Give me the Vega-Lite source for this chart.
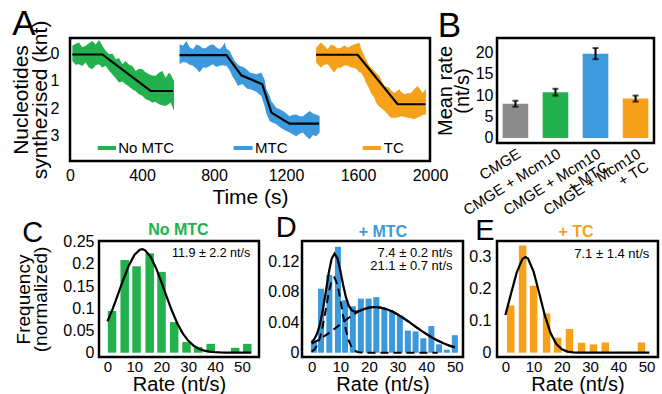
{
  "$schema": "https://vega.github.io/schema/vega-lite/v6.json",
  "background": "white",
  "padding": {"left": 8, "top": 5, "right": 0, "bottom": 0},
  "config": {
    "font": "Liberation Sans",
    "view": {"stroke": "black", "strokeWidth": 2.5},
    "axis": {"domain": false, "ticks": false, "grid": false, "labelColor": "black", "titleColor": "black", "titleFontWeight": "normal", "labelFontSize": 16, "titleFontSize": 21, "labelFlush": false, "labelOverlap": false, "labelBound": false, "titleFont": "Liberation Sans", "labelFont": "Liberation Sans"}
  },
  "resolve": {"scale": {"color": "independent"}},
  "datasets": {
    "traces": [
      {"s": "No MTC", "t": 13, "a": -0.30, "b": 0.26}, {"s": "No MTC", "t": 31, "a": -0.38, "b": 0.40}, {"s": "No MTC", "t": 50, "a": -0.42, "b": 0.38}, {"s": "No MTC", "t": 68, "a": -0.25, "b": 0.45}, {"s": "No MTC", "t": 87, "a": -0.30, "b": 0.32}, {"s": "No MTC", "t": 105, "a": -0.40, "b": 0.50}, {"s": "No MTC", "t": 124, "a": -0.48, "b": 0.57}, {"s": "No MTC", "t": 143, "a": -0.35, "b": 0.42}, {"s": "No MTC", "t": 161, "a": -0.52, "b": 0.38}, {"s": "No MTC", "t": 180, "a": -0.30, "b": 0.50}, {"s": "No MTC", "t": 198, "a": -0.12, "b": 0.44}, {"s": "No MTC", "t": 217, "a": 0.01, "b": 0.62}, {"s": "No MTC", "t": 235, "a": -0.02, "b": 0.75}, {"s": "No MTC", "t": 254, "a": 0.20, "b": 0.90}, {"s": "No MTC", "t": 272, "a": 0.15, "b": 1.06}, {"s": "No MTC", "t": 291, "a": 0.38, "b": 1.02}, {"s": "No MTC", "t": 309, "a": 0.26, "b": 1.12}, {"s": "No MTC", "t": 328, "a": 0.40, "b": 1.20}, {"s": "No MTC", "t": 346, "a": 0.45, "b": 1.31}, {"s": "No MTC", "t": 365, "a": 0.63, "b": 1.38}, {"s": "No MTC", "t": 383, "a": 0.55, "b": 1.49}, {"s": "No MTC", "t": 402, "a": 0.57, "b": 1.55}, {"s": "No MTC", "t": 420, "a": 0.68, "b": 1.68}, {"s": "No MTC", "t": 439, "a": 0.75, "b": 1.72}, {"s": "No MTC", "t": 457, "a": 0.80, "b": 1.80}, {"s": "No MTC", "t": 476, "a": 0.81, "b": 1.78}, {"s": "No MTC", "t": 494, "a": 0.70, "b": 1.86}, {"s": "No MTC", "t": 513, "a": 0.63, "b": 1.90}, {"s": "No MTC", "t": 531, "a": 0.88, "b": 1.93}, {"s": "No MTC", "t": 550, "a": 0.70, "b": 1.85}, {"s": "No MTC", "t": 559, "a": 0.75, "b": 1.80}, {"s": "No MTC", "t": 578, "a": 1.00, "b": 2.10},
      {"s": "MTC", "t": 609, "a": -0.36, "b": 0.38}, {"s": "MTC", "t": 628, "a": -0.30, "b": 0.30}, {"s": "MTC", "t": 646, "a": -0.48, "b": 0.32}, {"s": "MTC", "t": 665, "a": -0.25, "b": 0.40}, {"s": "MTC", "t": 683, "a": -0.17, "b": 0.44}, {"s": "MTC", "t": 702, "a": -0.35, "b": 0.55}, {"s": "MTC", "t": 720, "a": -0.30, "b": 0.69}, {"s": "MTC", "t": 739, "a": -0.20, "b": 0.50}, {"s": "MTC", "t": 757, "a": -0.23, "b": 0.51}, {"s": "MTC", "t": 776, "a": -0.32, "b": 0.45}, {"s": "MTC", "t": 794, "a": -0.36, "b": 0.38}, {"s": "MTC", "t": 813, "a": -0.25, "b": 0.48}, {"s": "MTC", "t": 831, "a": -0.17, "b": 0.44}, {"s": "MTC", "t": 850, "a": -0.30, "b": 0.42}, {"s": "MTC", "t": 859, "a": -0.42, "b": 0.44}, {"s": "MTC", "t": 869, "a": -0.20, "b": 0.44}, {"s": "MTC", "t": 887, "a": -0.11, "b": 0.60}, {"s": "MTC", "t": 906, "a": 0.15, "b": 0.88}, {"s": "MTC", "t": 915, "a": 0.26, "b": 0.95}, {"s": "MTC", "t": 933, "a": 0.40, "b": 1.19}, {"s": "MTC", "t": 942, "a": 0.44, "b": 1.15}, {"s": "MTC", "t": 961, "a": 0.48, "b": 1.12}, {"s": "MTC", "t": 970, "a": 0.51, "b": 1.20}, {"s": "MTC", "t": 989, "a": 0.62, "b": 1.31}, {"s": "MTC", "t": 998, "a": 0.69, "b": 1.30}, {"s": "MTC", "t": 1026, "a": 0.73, "b": 1.37}, {"s": "MTC", "t": 1035, "a": 0.75, "b": 1.40}, {"s": "MTC", "t": 1063, "a": 0.69, "b": 1.56}, {"s": "MTC", "t": 1081, "a": 0.95, "b": 1.93}, {"s": "MTC", "t": 1091, "a": 1.31, "b": 2.20}, {"s": "MTC", "t": 1109, "a": 1.55, "b": 2.48}, {"s": "MTC", "t": 1118, "a": 1.74, "b": 2.52}, {"s": "MTC", "t": 1146, "a": 1.99, "b": 2.60}, {"s": "MTC", "t": 1165, "a": 2.05, "b": 2.70}, {"s": "MTC", "t": 1183, "a": 2.11, "b": 2.79}, {"s": "MTC", "t": 1202, "a": 2.20, "b": 2.85}, {"s": "MTC", "t": 1220, "a": 2.30, "b": 2.91}, {"s": "MTC", "t": 1239, "a": 2.25, "b": 2.98}, {"s": "MTC", "t": 1257, "a": 2.24, "b": 3.04}, {"s": "MTC", "t": 1276, "a": 2.30, "b": 2.95}, {"s": "MTC", "t": 1294, "a": 2.30, "b": 2.91}, {"s": "MTC", "t": 1313, "a": 2.20, "b": 3.05}, {"s": "MTC", "t": 1331, "a": 2.11, "b": 3.16}, {"s": "MTC", "t": 1350, "a": 2.20, "b": 3.00}, {"s": "MTC", "t": 1368, "a": 2.24, "b": 3.04}, {"s": "MTC", "t": 1387, "a": 2.30, "b": 2.91},
      {"s": "TC", "t": 1367, "a": -0.23, "b": 0.32}, {"s": "TC", "t": 1394, "a": -0.42, "b": 0.51}, {"s": "TC", "t": 1413, "a": -0.30, "b": 0.40}, {"s": "TC", "t": 1432, "a": -0.17, "b": 0.38}, {"s": "TC", "t": 1450, "a": -0.35, "b": 0.55}, {"s": "TC", "t": 1468, "a": -0.30, "b": 0.69}, {"s": "TC", "t": 1487, "a": -0.20, "b": 0.50}, {"s": "TC", "t": 1506, "a": -0.23, "b": 0.51}, {"s": "TC", "t": 1524, "a": -0.32, "b": 0.42}, {"s": "TC", "t": 1543, "a": -0.23, "b": 0.44}, {"s": "TC", "t": 1562, "a": -0.30, "b": 0.50}, {"s": "TC", "t": 1580, "a": -0.36, "b": 0.51}, {"s": "TC", "t": 1598, "a": -0.40, "b": 0.60}, {"s": "TC", "t": 1607, "a": -0.42, "b": 0.69}, {"s": "TC", "t": 1617, "a": -0.20, "b": 0.69}, {"s": "TC", "t": 1635, "a": 0.07, "b": 0.90}, {"s": "TC", "t": 1644, "a": 0.20, "b": 1.06}, {"s": "TC", "t": 1663, "a": 0.44, "b": 1.30}, {"s": "TC", "t": 1672, "a": 0.50, "b": 1.44}, {"s": "TC", "t": 1691, "a": 0.63, "b": 1.62}, {"s": "TC", "t": 1700, "a": 0.70, "b": 1.80}, {"s": "TC", "t": 1718, "a": 0.81, "b": 1.95}, {"s": "TC", "t": 1728, "a": 0.95, "b": 1.99}, {"s": "TC", "t": 1746, "a": 1.19, "b": 2.10}, {"s": "TC", "t": 1756, "a": 1.20, "b": 2.17}, {"s": "TC", "t": 1774, "a": 1.25, "b": 2.30}, {"s": "TC", "t": 1783, "a": 1.35, "b": 2.36}, {"s": "TC", "t": 1802, "a": 1.44, "b": 2.36}, {"s": "TC", "t": 1811, "a": 1.40, "b": 2.36}, {"s": "TC", "t": 1830, "a": 1.31, "b": 2.33}, {"s": "TC", "t": 1839, "a": 1.40, "b": 2.30}, {"s": "TC", "t": 1857, "a": 1.49, "b": 2.33}, {"s": "TC", "t": 1876, "a": 1.45, "b": 2.36}, {"s": "TC", "t": 1894, "a": 1.44, "b": 2.38}, {"s": "TC", "t": 1913, "a": 1.30, "b": 2.42}, {"s": "TC", "t": 1931, "a": 1.19, "b": 2.35}, {"s": "TC", "t": 1950, "a": 1.35, "b": 2.30}, {"s": "TC", "t": 1959, "a": 1.44, "b": 2.25}, {"s": "TC", "t": 1978, "a": 1.30, "b": 2.24}
    ],
    "fits": [
      {"s": "No MTC", "t": 13, "y": 0.02}, {"s": "No MTC", "t": 180, "y": 0.02}, {"s": "No MTC", "t": 448, "y": 1.37}, {"s": "No MTC", "t": 572, "y": 1.37},
      {"s": "MTC", "t": 609, "y": 0.04}, {"s": "MTC", "t": 869, "y": 0.04}, {"s": "MTC", "t": 952, "y": 0.79}, {"s": "MTC", "t": 1068, "y": 1.12}, {"s": "MTC", "t": 1119, "y": 2.17}, {"s": "MTC", "t": 1220, "y": 2.58}, {"s": "MTC", "t": 1383, "y": 2.58},
      {"s": "TC", "t": 1367, "y": 0.03}, {"s": "TC", "t": 1598, "y": 0.03}, {"s": "TC", "t": 1820, "y": 1.86}, {"s": "TC", "t": 1975, "y": 1.86}
    ],
    "rates": [
      {"cond": "CMGE", "rate": 8.0, "lo": 7.3, "hi": 8.7},
      {"cond": "CMGE + Mcm10", "rate": 10.7, "lo": 9.9, "hi": 11.5},
      {"cond": "CMGE + Mcm10 + MTC", "rate": 19.7, "lo": 18.4, "hi": 21.0},
      {"cond": "CMGE + Mcm10 + TC", "rate": 9.2, "lo": 8.5, "hi": 9.9}
    ],
    "cBars": [
      {"rate": 1.7, "freq": 0.094}, {"rate": 6.4, "freq": 0.209}, {"rate": 10.8, "freq": 0.195}, {"rate": 15.7, "freq": 0.224}, {"rate": 20.1, "freq": 0.182}, {"rate": 24.8, "freq": 0.069}, {"rate": 29.4, "freq": 0.024}, {"rate": 33.7, "freq": 0.013}, {"rate": 38.4, "freq": 0.020}, {"rate": 47.5, "freq": 0.011}, {"rate": 52.0, "freq": 0.020}
    ],
    "cFit": [
      {"rate": 0, "freq": 0.0709}, {"rate": 2, "freq": 0.0999}, {"rate": 4, "freq": 0.1328}, {"rate": 6, "freq": 0.1666}, {"rate": 8, "freq": 0.1971}, {"rate": 10, "freq": 0.2201}, {"rate": 12, "freq": 0.2319}, {"rate": 13, "freq": 0.233}, {"rate": 14, "freq": 0.2306}, {"rate": 16, "freq": 0.2163}, {"rate": 18, "freq": 0.1915}, {"rate": 20, "freq": 0.1599}, {"rate": 22, "freq": 0.1261}, {"rate": 24, "freq": 0.0938}, {"rate": 26, "freq": 0.0658}, {"rate": 28, "freq": 0.0436}, {"rate": 30, "freq": 0.0272}, {"rate": 32, "freq": 0.016}, {"rate": 34, "freq": 0.0089}, {"rate": 36, "freq": 0.0047}, {"rate": 38, "freq": 0.0023}, {"rate": 40, "freq": 0.0011}, {"rate": 42, "freq": 0.0005}, {"rate": 44, "freq": 0.0002}, {"rate": 46, "freq": 0.0001}, {"rate": 48, "freq": 0}, {"rate": 50, "freq": 0}, {"rate": 53.5, "freq": 0}
    ],
    "dBars": [
      {"rate": 0.8, "freq": 0.016}, {"rate": 3.3, "freq": 0.084}, {"rate": 6.2, "freq": 0.102}, {"rate": 9.2, "freq": 0.139}, {"rate": 11.7, "freq": 0.069}, {"rate": 14.4, "freq": 0.061}, {"rate": 17.2, "freq": 0.071}, {"rate": 19.9, "freq": 0.071}, {"rate": 22.6, "freq": 0.073}, {"rate": 25.4, "freq": 0.059}, {"rate": 28.1, "freq": 0.055}, {"rate": 30.8, "freq": 0.049}, {"rate": 33.6, "freq": 0.029}, {"rate": 36.3, "freq": 0.028}, {"rate": 39.0, "freq": 0.019}, {"rate": 41.8, "freq": 0.035}, {"rate": 44.5, "freq": 0.011}, {"rate": 47.2, "freq": 0.004}, {"rate": 50.0, "freq": 0.023}
    ],
    "dFit": [
      {"rate": 0, "tot": 0.0136, "c1": 0.0015, "c2": 0.0121}, {"rate": 1, "tot": 0.0181, "c1": 0.0042, "c2": 0.0140}, {"rate": 2, "tot": 0.0259, "c1": 0.0099, "c2": 0.0160}, {"rate": 3, "tot": 0.0386, "c1": 0.0204, "c2": 0.0182}, {"rate": 4, "tot": 0.0574, "c1": 0.0368, "c2": 0.0206}, {"rate": 5, "tot": 0.0809, "c1": 0.0578, "c2": 0.0231}, {"rate": 6, "tot": 0.1050, "c1": 0.0793, "c2": 0.0257}, {"rate": 7, "tot": 0.1232, "c1": 0.0947, "c2": 0.0285}, {"rate": 8, "tot": 0.1301, "c1": 0.0987, "c2": 0.0314}, {"rate": 9, "tot": 0.1240, "c1": 0.0897, "c2": 0.0343}, {"rate": 10, "tot": 0.1083, "c1": 0.0710, "c2": 0.0373}, {"rate": 11, "tot": 0.0893, "c1": 0.0491, "c2": 0.0402}, {"rate": 12, "tot": 0.0726, "c1": 0.0295, "c2": 0.0431}, {"rate": 13, "tot": 0.0614, "c1": 0.0155, "c2": 0.0459}, {"rate": 14, "tot": 0.0557, "c1": 0.0071, "c2": 0.0486}, {"rate": 15, "tot": 0.0538, "c1": 0.0028, "c2": 0.0510}, {"rate": 16, "tot": 0.0543, "c1": 0.0010, "c2": 0.0533}, {"rate": 17, "tot": 0.0555, "c1": 0.0003, "c2": 0.0552}, {"rate": 18, "tot": 0.0569, "c1": 0.0001, "c2": 0.0569}, {"rate": 20, "tot": 0.0592, "c1": 0, "c2": 0.0592}, {"rate": 22, "tot": 0.0600, "c1": 0, "c2": 0.0600}, {"rate": 24, "tot": 0.0593, "c1": 0, "c2": 0.0593}, {"rate": 26, "tot": 0.0574, "c1": 0, "c2": 0.0574}, {"rate": 28, "tot": 0.0544, "c1": 0, "c2": 0.0544}, {"rate": 30, "tot": 0.0503, "c1": 0, "c2": 0.0503}, {"rate": 32, "tot": 0.0456, "c1": 0, "c2": 0.0456}, {"rate": 34, "tot": 0.0404, "c1": 0, "c2": 0.0404}, {"rate": 36, "tot": 0.0350, "c1": 0, "c2": 0.0350}, {"rate": 38, "tot": 0.0297, "c1": 0, "c2": 0.0297}, {"rate": 40, "tot": 0.0247, "c1": 0, "c2": 0.0247}, {"rate": 42, "tot": 0.0200, "c1": 0, "c2": 0.0200}, {"rate": 44, "tot": 0.0159, "c1": 0, "c2": 0.0159}, {"rate": 46, "tot": 0.0124, "c2": 0.0124}, {"rate": 48, "tot": 0.0094, "c2": 0.0094}, {"rate": 50, "tot": 0.0070, "c2": 0.0070}
    ],
    "eBars": [
      {"rate": 1.9, "freq": 0.148}, {"rate": 6.1, "freq": 0.336}, {"rate": 10.0, "freq": 0.210}, {"rate": 14.6, "freq": 0.123}, {"rate": 18.5, "freq": 0.047}, {"rate": 22.7, "freq": 0.074}, {"rate": 27.0, "freq": 0.031}, {"rate": 31.2, "freq": 0.026}, {"rate": 35.4, "freq": 0.032}, {"rate": 39.8, "freq": 0.002}, {"rate": 48.2, "freq": 0.032}
    ],
    "eFit": [
      {"rate": 0, "freq": 0.118}, {"rate": 2, "freq": 0.185}, {"rate": 4, "freq": 0.251}, {"rate": 6, "freq": 0.293}, {"rate": 7.1, "freq": 0.300}, {"rate": 8, "freq": 0.295}, {"rate": 10, "freq": 0.254}, {"rate": 12, "freq": 0.186}, {"rate": 14, "freq": 0.116}, {"rate": 16, "freq": 0.0616}, {"rate": 18, "freq": 0.028}, {"rate": 20, "freq": 0.0108}, {"rate": 22, "freq": 0.0035}, {"rate": 24, "freq": 0.001}, {"rate": 26, "freq": 0.0002}, {"rate": 28, "freq": 0}, {"rate": 35, "freq": 0}, {"rate": 45, "freq": 0}, {"rate": 51, "freq": 0}
    ]
  },
  "spacing": -20,
  "vconcat": [
    {
      "bounds": "flush",
      "spacing": 67,
      "resolve": {"scale": {"color": "independent"}},
      "hconcat": [
        {
          "width": 360,
          "height": 123,
          "layer": [
            {
              "data": {"name": "traces"},
              "mark": {"type": "area"},
              "encoding": {
                "x": {"field": "t", "type": "quantitative", "scale": {"domain": [0, 2000], "nice": false, "zero": false}, "axis": {"values": [0, 400, 800, 1200, 1600, 2000], "tickCount": 20, "format": "d", "title": "Time (s)", "labelPadding": 6, "titlePadding": 3}},
                "y": {"field": "a", "type": "quantitative", "scale": {"domain": [-0.59, 3.96], "reverse": true, "nice": false, "zero": false}, "axis": {"values": [0, 1, 2, 3], "tickCount": 20, "format": "d", "title": ["Nucleotides", "synthezised (knt)"], "labelPadding": 11, "titlePadding": 0, "titleLineHeight": 19}},
                "y2": {"field": "b"},
                "color": {"field": "s", "type": "nominal", "scale": {"domain": ["No MTC", "MTC", "TC"], "range": ["#22b14c", "#3b99dc", "#f7a11a"]}, "legend": null}
              }
            },
            {
              "data": {"name": "fits"},
              "mark": {"type": "line", "color": "black", "strokeWidth": 2.2},
              "encoding": {
                "x": {"field": "t", "type": "quantitative"},
                "y": {"field": "y", "type": "quantitative"},
                "detail": {"field": "s", "type": "nominal"}
              }
            },
            {"data": {"values": [{}]}, "mark": {"type": "rule", "color": "#22b14c", "strokeWidth": 4}, "encoding": {"x": {"datum": 154}, "x2": {"datum": 256}, "y": {"datum": 3.48}}},
            {"data": {"values": [{}]}, "mark": {"type": "rule", "color": "#3b99dc", "strokeWidth": 4}, "encoding": {"x": {"datum": 909}, "x2": {"datum": 1015}, "y": {"datum": 3.48}}},
            {"data": {"values": [{}]}, "mark": {"type": "rule", "color": "#f7a11a", "strokeWidth": 4}, "encoding": {"x": {"datum": 1626}, "x2": {"datum": 1728}, "y": {"datum": 3.48}}},
            {"data": {"values": [{}]}, "mark": {"type": "text", "align": "left", "baseline": "middle", "fontSize": 15, "color": "black"}, "encoding": {"x": {"datum": 268}, "y": {"datum": 3.48}, "text": {"value": "No MTC"}}},
            {"data": {"values": [{}]}, "mark": {"type": "text", "align": "left", "baseline": "middle", "fontSize": 15, "color": "black"}, "encoding": {"x": {"datum": 1028}, "y": {"datum": 3.48}, "text": {"value": "MTC"}}},
            {"data": {"values": [{}]}, "mark": {"type": "text", "align": "left", "baseline": "middle", "fontSize": 15, "color": "black"}, "encoding": {"x": {"datum": 1743}, "y": {"datum": 3.48}, "text": {"value": "TC"}}},
            {"data": {"values": [{}]}, "mark": {"type": "text", "align": "center", "baseline": "alphabetic", "fontSize": 35, "color": "black"}, "encoding": {"x": {"datum": -256}, "y": {"datum": -0.70}, "text": {"value": "A"}}},
            {"data": {"values": [{}]}, "mark": {"type": "text", "align": "center", "baseline": "alphabetic", "fontSize": 35, "color": "black"}, "encoding": {"x": {"datum": 2108}, "y": {"datum": -0.63}, "text": {"value": "B"}}}
          ]
        },
        {
          "width": 157,
          "height": 105,
          "data": {"name": "rates"},
          "layer": [
            {
              "mark": {"type": "bar"},
              "encoding": {
                "x": {"field": "cond", "type": "nominal", "sort": null, "scale": {"paddingInner": 0.36, "paddingOuter": 0.14}, "axis": {"title": null, "labelAngle": -32, "labelAlign": "right", "labelBaseline": "top", "labelPadding": 3, "labelFontSize": 15, "labelLineHeight": 15, "labelExpr": "datum.value == 'CMGE + Mcm10 + MTC' ? ['CMGE + Mcm10', '+ MTC'] : datum.value == 'CMGE + Mcm10 + TC' ? ['CMGE + Mcm10', '+ TC'] : datum.value"}},
                "y": {"field": "rate", "type": "quantitative", "scale": {"domain": [-1.17, 23.35], "nice": false, "zero": false}, "axis": {"values": [0, 5, 10, 15, 20], "tickCount": 20, "format": "d", "title": ["Mean rate", "(nt/s)"], "titleFontSize": 20, "titleLineHeight": 17, "labelPadding": 4, "titlePadding": 3}},
                "color": {"field": "cond", "type": "nominal", "sort": null, "scale": {"domain": ["CMGE", "CMGE + Mcm10", "CMGE + Mcm10 + MTC", "CMGE + Mcm10 + TC"], "range": ["#8b8b8b", "#22b14c", "#3b99dc", "#f7a11a"]}, "legend": null}
              }
            },
            {
              "mark": {"type": "rule", "color": "black", "strokeWidth": 2},
              "encoding": {"x": {"field": "cond", "type": "nominal", "sort": null}, "y": {"field": "lo", "type": "quantitative"}, "y2": {"field": "hi"}}
            },
            {
              "mark": {"type": "tick", "orient": "horizontal", "color": "black", "size": 6, "thickness": 2},
              "encoding": {"x": {"field": "cond", "type": "nominal", "sort": null}, "y": {"field": "lo", "type": "quantitative"}}
            },
            {
              "mark": {"type": "tick", "orient": "horizontal", "color": "black", "size": 6, "thickness": 2},
              "encoding": {"x": {"field": "cond", "type": "nominal", "sort": null}, "y": {"field": "hi", "type": "quantitative"}}
            }
          ]
        }
      ]
    },
    {
      "bounds": "flush",
      "spacing": 0,
      "hconcat": [
        {"width": 29, "height": 1, "view": {"stroke": null}, "data": {"values": [{}]}, "mark": {"type": "point", "opacity": 0}},
        {
          "width": 160,
          "height": 116,
          "layer": [
            {
              "data": {"name": "cBars"},
              "mark": {"type": "bar", "orient": "vertical", "size": 8.5, "color": "#22b14c"},
              "encoding": {
                "x": {"field": "rate", "type": "quantitative", "scale": {"domain": [-1.3, 54.5], "nice": false, "zero": false}, "axis": {"values": [0, 10, 20, 30, 40, 50], "tickCount": 20, "title": "Rate (nt/s)", "titleFontSize": 20, "labelFontSize": 15, "labelPadding": 2, "titlePadding": 0}},
                "y": {"field": "freq", "type": "quantitative", "scale": {"domain": [-0.0097, 0.2516], "nice": false, "zero": false}, "axis": {"values": [0, 0.05, 0.1, 0.15, 0.2, 0.25], "tickCount": 20, "format": "~g", "title": ["Frequency", "(normalized)"], "titleFontSize": 19, "titleLineHeight": 17, "labelPadding": 5, "titlePadding": 12}}
              }
            },
            {
              "data": {"name": "cFit"},
              "mark": {"type": "line", "color": "black", "strokeWidth": 2.2},
              "encoding": {"x": {"field": "rate", "type": "quantitative"}, "y": {"field": "freq", "type": "quantitative"}}
            },
            {"data": {"values": [{}]}, "mark": {"type": "text", "align": "right", "baseline": "middle", "fontSize": 12.5, "color": "black"}, "encoding": {"x": {"datum": 53.1}, "y": {"datum": 0.225}, "text": {"value": "11.9 ± 2.2 nt/s"}}},
            {"data": {"values": [{}]}, "mark": {"type": "text", "align": "center", "baseline": "alphabetic", "fontSize": 16, "fontWeight": "bold", "color": "#22b14c"}, "encoding": {"x": {"datum": 26.4}, "y": {"datum": 0.264}, "text": {"value": "No MTC"}}},
            {"data": {"values": [{}]}, "mark": {"type": "text", "align": "center", "baseline": "alphabetic", "fontSize": 29, "color": "black"}, "encoding": {"x": {"datum": -27.8}, "y": {"datum": 0.249}, "text": {"value": "C"}}}
          ]
        },
        {"width": 43, "height": 1, "view": {"stroke": null}, "data": {"values": [{}]}, "mark": {"type": "point", "opacity": 0}},
        {
          "width": 161,
          "height": 116,
          "layer": [
            {
              "data": {"name": "dBars"},
              "mark": {"type": "bar", "orient": "vertical", "size": 6, "color": "#3b99dc"},
              "encoding": {
                "x": {"field": "rate", "type": "quantitative", "scale": {"domain": [-1.6, 51.1], "nice": false, "zero": false}, "axis": {"values": [0, 10, 20, 30, 40, 50], "tickCount": 20, "title": "Rate (nt/s)", "titleFontSize": 20, "labelFontSize": 15, "labelPadding": 2, "titlePadding": 0}},
                "y": {"field": "freq", "type": "quantitative", "scale": {"domain": [-0.0056, 0.1466], "nice": false, "zero": false}, "axis": {"values": [0, 0.04, 0.08, 0.12], "tickCount": 20, "format": "~g", "title": null, "labelPadding": 3}}
              }
            },
            {
              "data": {"name": "dFit"},
              "mark": {"type": "line", "color": "black", "strokeWidth": 2, "strokeDash": [8, 5]},
              "encoding": {"x": {"field": "rate", "type": "quantitative"}, "y": {"field": "c1", "type": "quantitative"}}
            },
            {
              "data": {"name": "dFit"},
              "mark": {"type": "line", "color": "black", "strokeWidth": 2, "strokeDash": [8, 5]},
              "encoding": {"x": {"field": "rate", "type": "quantitative"}, "y": {"field": "c2", "type": "quantitative"}}
            },
            {
              "data": {"name": "dFit"},
              "mark": {"type": "line", "color": "black", "strokeWidth": 2.2},
              "encoding": {"x": {"field": "rate", "type": "quantitative"}, "y": {"field": "tot", "type": "quantitative"}}
            },
            {"data": {"values": [{}]}, "mark": {"type": "text", "align": "right", "baseline": "middle", "fontSize": 13, "color": "black"}, "encoding": {"x": {"datum": 49.2}, "y": {"datum": 0.131}, "text": {"value": "7.4 ± 0.2 nt/s"}}},
            {"data": {"values": [{}]}, "mark": {"type": "text", "align": "right", "baseline": "middle", "fontSize": 13, "color": "black"}, "encoding": {"x": {"datum": 49.2}, "y": {"datum": 0.114}, "text": {"value": "21.1 ± 0.7 nt/s"}}},
            {"data": {"values": [{}]}, "mark": {"type": "text", "align": "center", "baseline": "alphabetic", "fontSize": 16, "fontWeight": "bold", "color": "#3b99dc"}, "encoding": {"x": {"datum": 24.9}, "y": {"datum": 0.1525}, "text": {"value": "+ MTC"}}},
            {"data": {"values": [{}]}, "mark": {"type": "text", "align": "center", "baseline": "alphabetic", "fontSize": 29, "color": "black"}, "encoding": {"x": {"datum": -8.85}, "y": {"datum": 0.152}, "text": {"value": "D"}}}
          ]
        },
        {"width": 34, "height": 1, "view": {"stroke": null}, "data": {"values": [{}]}, "mark": {"type": "point", "opacity": 0}},
        {
          "width": 161,
          "height": 116,
          "layer": [
            {
              "data": {"name": "eBars"},
              "mark": {"type": "bar", "orient": "vertical", "size": 7.5, "color": "#f7a11a"},
              "encoding": {
                "x": {"field": "rate", "type": "quantitative", "scale": {"domain": [-1.2, 52.3], "nice": false, "zero": false}, "axis": {"values": [0, 10, 20, 30, 40, 50], "tickCount": 20, "title": "Rate (nt/s)", "titleFontSize": 20, "labelFontSize": 15, "labelPadding": 2, "titlePadding": 0}},
                "y": {"field": "freq", "type": "quantitative", "scale": {"domain": [-0.0135, 0.350], "nice": false, "zero": false}, "axis": {"values": [0, 0.1, 0.2, 0.3], "tickCount": 20, "format": "~g", "title": null, "labelPadding": 6}}
              }
            },
            {
              "data": {"name": "eFit"},
              "mark": {"type": "line", "color": "black", "strokeWidth": 2.2},
              "encoding": {"x": {"field": "rate", "type": "quantitative"}, "y": {"field": "freq", "type": "quantitative"}}
            },
            {"data": {"values": [{}]}, "mark": {"type": "text", "align": "right", "baseline": "middle", "fontSize": 13, "color": "black"}, "encoding": {"x": {"datum": 51.0}, "y": {"datum": 0.309}, "text": {"value": "7.1 ± 1.4 nt/s"}}},
            {"data": {"values": [{}]}, "mark": {"type": "text", "align": "center", "baseline": "alphabetic", "fontSize": 16, "fontWeight": "bold", "color": "#f7a11a"}, "encoding": {"x": {"datum": 25.0}, "y": {"datum": 0.363}, "text": {"value": "+ TC"}}},
            {"data": {"values": [{}]}, "mark": {"type": "text", "align": "center", "baseline": "alphabetic", "fontSize": 29, "color": "black"}, "encoding": {"x": {"datum": -7.24}, "y": {"datum": 0.353}, "text": {"value": "E"}}}
          ]
        }
      ]
    }
  ]
}
